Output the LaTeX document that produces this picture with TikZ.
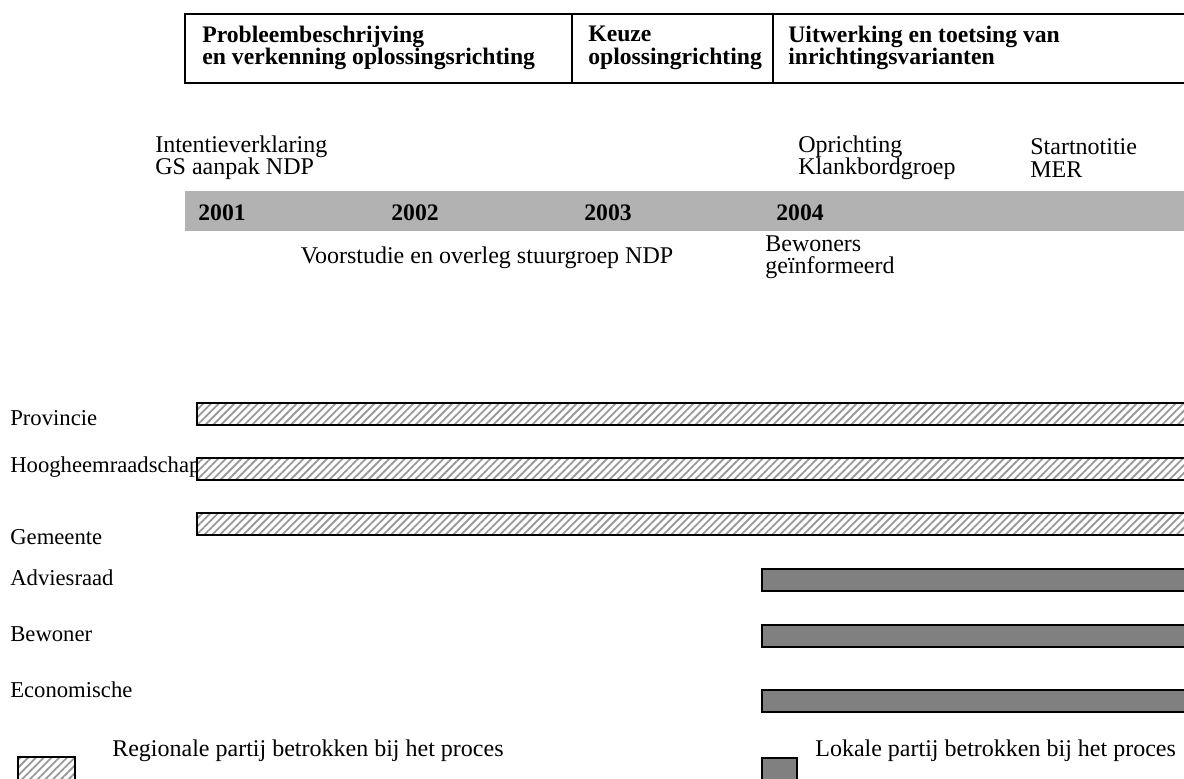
\documentclass[tikz,border=0pt]{standalone}
\usepackage{fontspec}
\setmainfont{Liberation Serif}
\usetikzlibrary{patterns.meta}

\begin{document}
\begin{tikzpicture}[x=0.6pt, y=-0.6pt, font=\fontsize{14.4}{13.4}\selectfont,
  lbl/.style={anchor=west, inner sep=0pt, align=left},
  partij/.style={lbl, font=\fontsize{13.6}{13.4}\selectfont},
  hdr/.style={lbl, font=\fontsize{14.2}{13.4}\selectfont\bfseries},
  regio/.style={draw=black, line width=1pt, preaction={fill=white},
    pattern={Lines[angle=45, distance=3.3pt, line width=1.1pt]}, pattern color=black!40},
  lokaal/.style={draw=black, line width=1.3pt, fill=black!50}]
\useasboundingbox (0,0) rectangle (1184,778); \clip (0,0) rectangle (1184,778);
% fasen
\draw[line width=1.4pt] (185,14) rectangle (1195,83);
\draw[line width=1pt] (572,14) -- (572,83) (773,14) -- (773,83);
\node[hdr] (fase1) at (202,48) {Probleembeschrijving\\en verkenning oplossingsrichting};
\node[hdr] (fase2) at (588,48) {Keuze\\oplossingrichting};
\node[hdr] (fase3) at (788,48) {Uitwerking en toetsing van\\inrichtingsvarianten};
% tijdlijn
\fill[black!30] (185,191) rectangle (1195,231);
\foreach \x/\jr in {198/2001, 391/2002, 584/2003, 776/2004}
  \node[hdr] (j\jr) at (\x,213) {\jr};
\node[lbl] (intentie) at (155,158) {Intentieverklaring\\GS aanpak NDP};
\node[lbl] (klankbord) at (798,158) {Oprichting\\Klankbordgroep};
\node[lbl] (mer) at (1030,158) {Startnotitie\\MER};
\node[inner sep=0pt] (voorstudie) at (487,258) {Voorstudie en overleg stuurgroep NDP};
\node[lbl] (bewinfo) at (765,257) {Bewoners\\geïnformeerd};
% partijen
\node[partij] (prov) at (10,418) {Provincie};
\node[partij] (hhr) at (10,467) {Hoogheemraadschap};
\node[partij] (gem) at (10,537) {Gemeente};
\node[partij] (advies) at (10,578) {Adviesraad};
\node[partij] (bew) at (10,634) {Bewoner};
\node[partij] (econ) at (10,690) {Economische};
\foreach \yt in {403, 458, 513} \draw[regio] (197,\yt) rectangle (1195,\yt+22);
\foreach \yt in {569, 625, 690} \draw[lokaal] (762,\yt) rectangle (1195,\yt+22);
% legenda
\draw[regio] (18,757) rectangle (75,790);
\draw[lokaal] (762,758) rectangle (797,790);
\node[lbl] (lgregio) at (112,751) {Regionale partij betrokken bij het proces};
\node[lbl] (lglokaal) at (815,751) {Lokale partij betrokken bij het proces};
\end{tikzpicture}
\end{document}
